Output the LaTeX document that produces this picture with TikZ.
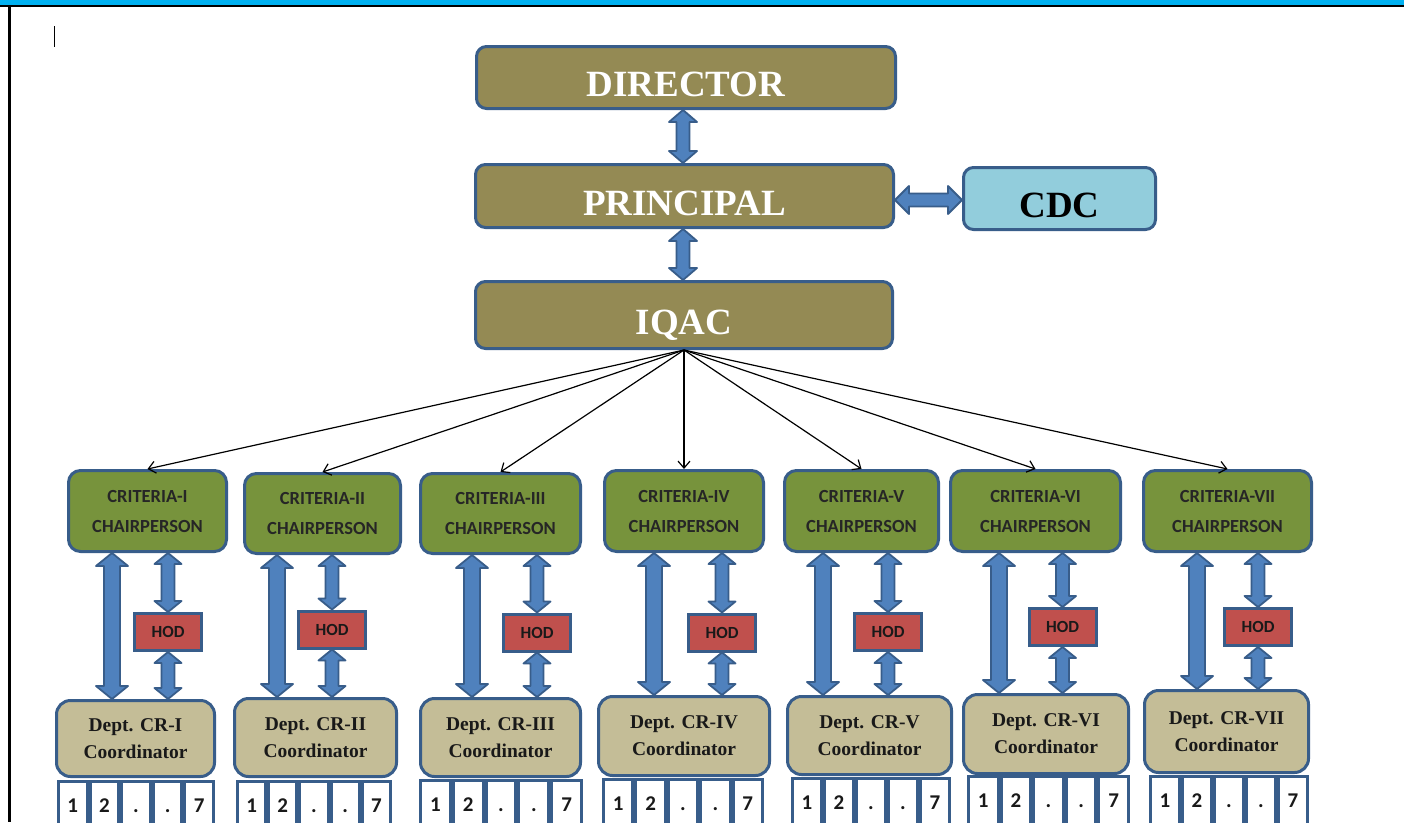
\documentclass[tikz,border=0pt]{standalone}
\usepackage{fontspec}
\setmainfont{Liberation Serif}
\newfontfamily\calib{Carlito}
\usetikzlibrary{calc,arrows.meta}
\definecolor{olivebox}{HTML}{948A54}
\definecolor{bord}{HTML}{385D8A}
\definecolor{cdcfill}{HTML}{92CDDC}
\definecolor{critgreen}{HTML}{77933C}
\definecolor{hodred}{HTML}{C0504D}
\definecolor{tanbox}{HTML}{C4BD97}
\definecolor{arrowfill}{HTML}{4F81BD}
\definecolor{topcyan}{HTML}{00B0F0}
% vertical double block arrow: top, bottom, shaft half, head half, head length
\newcommand\dblV[5]{%
 \draw[blockarrow] (#1) -- ($(#1)+(#4,#5)$) -- ($(#1)+(#3,#5)$) -- ($(#2)+(#3,-#5)$) -- ($(#2)+(#4,-#5)$) -- (#2) -- ($(#2)+(-#4,-#5)$) -- ($(#2)+(-#3,-#5)$) -- ($(#1)+(-#3,#5)$) -- ($(#1)+(-#4,#5)$) -- cycle;}
% horizontal double block arrow: left, right, shaft half, head half, head length
\newcommand\dblH[5]{%
 \draw[blockarrow] (#1) -- ($(#1)+(#5,-#4)$) -- ($(#1)+(#5,-#3)$) -- ($(#2)+(-#5,-#3)$) -- ($(#2)+(-#5,-#4)$) -- (#2) -- ($(#2)+(-#5,#4)$) -- ($(#2)+(-#5,#3)$) -- ($(#1)+(#5,#3)$) -- ($(#1)+(#5,#4)$) -- cycle;}
\newcommand\numrow[4]{%
 \pgfmathsetmacro\nw{(#3-#2)/5}%
 \foreach \k/\t in {0/1,1/2,2/.,3/.,4/7}{%
   \node[numbox, minimum width={\nw-3}] (#1-\k) at ({#2+(\k+0.5)*\nw},{#4+25}) {\t};
 }}
\begin{document}
\begin{tikzpicture}[x=1pt,y=-1pt,
  topbox/.style={draw=bord, line width=3pt, rounded corners=10pt, fill=olivebox, text=white,
     font=\bfseries\fontsize{37}{40}\selectfont, inner sep=0pt, text height=38pt, text depth=0pt},
  crit/.style={draw=bord, line width=3pt, rounded corners=12pt, fill=critgreen, text=black!85,
     font=\calib\bfseries\fontsize{18.5}{30}\selectfont, align=center, inner sep=0pt},
  dept/.style={draw=bord, line width=3pt, rounded corners=14pt, fill=tanbox, text=black!90,
     font=\bfseries\fontsize{19.5}{27}\selectfont, align=center, inner sep=0pt},
  hod/.style={draw=bord, line width=3pt, fill=hodred, text=black!90,
     font=\calib\bfseries\fontsize{17}{20}\selectfont, minimum width=67pt, minimum height=37pt, inner sep=0pt},
  numbox/.style={draw=bord, line width=3pt, fill=white, text=black!90,
     font=\calib\bfseries\fontsize{21}{23}\selectfont, inner sep=0pt, text height=15pt, text depth=0pt, minimum height=48pt},
  blockarrow/.style={draw=bord, fill=arrowfill, line width=1.8pt, line join=round},
  thinarrow/.style={draw=black, line width=1.2pt, -{Straight Barb[length=7pt,width=12pt]}}
]
\path[use as bounding box] (0,0) rectangle (1404,822);
\clip (0,0) rectangle (1404,822);
\fill[white] (0,0) rectangle (1404,822);
% page frame
\fill[topcyan] (0,0) rectangle (1404,4.5);
\fill[black] (0,4.5) rectangle (1404,7);
\fill[black] (8,5) rectangle (10.5,822);
\draw[line width=1.8pt] (54.5,26) -- (54.5,47);

% top boxes
\node[topbox, minimum width=419pt, minimum height=62pt] (dir) at (686,77.5) {DIRECTOR};
\node[topbox, minimum width=418pt, minimum height=63pt] (pri) at (684.5,196) {PRINCIPAL};
\node[topbox, minimum width=417pt, minimum height=67pt] (iqac) at (684,315) {IQAC};
\node[topbox, fill=cdcfill, text=black, minimum width=192pt, minimum height=62pt] (cdc) at (1059.5,198.5) {CDC};

\coordinate (ax) at (683,0);
\dblV{dir.south -| ax}{pri.north -| ax}{6.5}{14}{12}
\dblV{pri.south -| ax}{iqac.north -| ax}{6.5}{14}{12}
\coordinate (ay) at (0,200);
\dblH{pri.east |- ay}{cdc.west |- ay}{6.5}{14}{14}

% criteria boxes
\foreach \i/\x/\y/\w/\h/\r in {1/147.5/511/158/81/I, 2/322.5/513.5/156/80/II, 3/500.5/513.5/160/80/III,
   4/684/511/159/81/IV, 5/861.5/511/154/81/V, 6/1035.5/511/170/81/VI, 7/1227.5/511/168/81/VII}
  \node[crit, minimum width=\w pt, minimum height=\h pt] (c\i) at (\x,\y) {CRITERIA-\r\\CHAIRPERSON};

% department boxes
\foreach \i/\x/\y/\w/\h/\r in {1/135.5/738.5/158/76/I, 2/315.5/737.5/162/78/II, 3/500.5/737.5/160/78/III,
   4/684/736/171/79/IV, 5/869.5/735.5/164/78/V, 6/1046/734/165/79/VI, 7/1226.5/731.5/164/82/VII}
  \node[dept, minimum width=\w pt, minimum height=\h pt] (d\i) at (\x,\y) {Dept. CR-\r\\Coordinator};

% HOD boxes
\foreach \i/\x/\y in {1/168/632, 2/332/629.5, 3/537/632.5, 4/722/632.5, 5/888/632, 6/1062.5/627, 7/1258/627}
  \node[hod] (h\i) at (\x,\y) {HOD};

% number rows
\numrow{n1}{57}{215}{780}
\numrow{n2}{236}{392}{780}
\numrow{n3}{419}{583}{779}
\numrow{n4}{602}{764}{778}
\numrow{n5}{791}{951}{777}
\numrow{n6}{967}{1130}{775}
\numrow{n7}{1149}{1309}{775}

% IQAC to criteria
\foreach \i in {1,...,7}
  \draw[thinarrow] (iqac.south) -- (c\i.north);

% big arrows criteria <-> dept, small arrows via HOD
\foreach \i/\bx in {1/112, 2/277, 3/472, 4/654, 5/823, 6/999, 7/1197}{
  \coordinate (b\i) at (\bx,600);
  \dblV{c\i.south -| b\i}{d\i.north -| b\i}{8}{16}{13}
  \dblV{c\i.south -| h\i}{h\i.north}{6.5}{13.5}{11}
  \dblV{h\i.south}{d\i.north -| h\i}{6.5}{13.5}{11}
}
\end{tikzpicture}
\end{document}
